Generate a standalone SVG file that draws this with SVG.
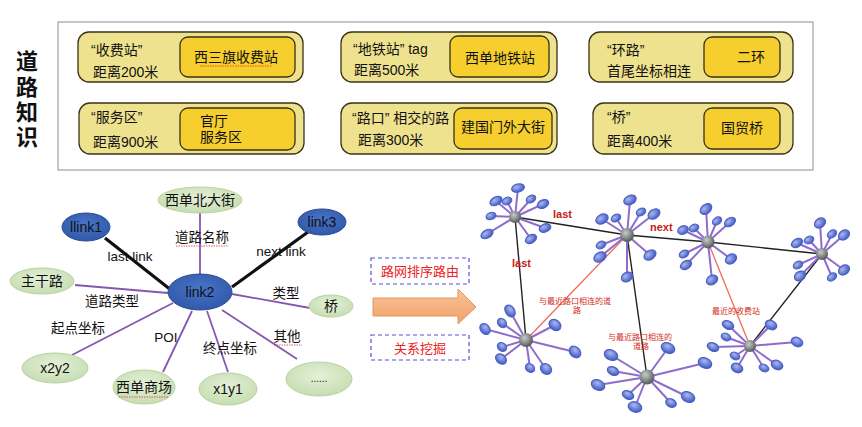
<svg xmlns="http://www.w3.org/2000/svg" width="862" height="427" viewBox="0 0 862 427">
<defs>
<radialGradient id="satg" cx="40%" cy="35%" r="70%"><stop offset="0" stop-color="#a9b8f0"/><stop offset="1" stop-color="#3c54bf"/></radialGradient>
<radialGradient id="hubg" cx="40%" cy="35%" r="70%"><stop offset="0" stop-color="#c8cccc"/><stop offset="1" stop-color="#4a5050"/></radialGradient>
<radialGradient id="greeng" cx="50%" cy="40%" r="65%"><stop offset="0" stop-color="#e4f0d8"/><stop offset="1" stop-color="#c3dcae"/></radialGradient>
<radialGradient id="blueg" cx="50%" cy="40%" r="65%"><stop offset="0" stop-color="#4a74c8"/><stop offset="1" stop-color="#2e56a8"/></radialGradient>
<linearGradient id="arrg" x1="0" y1="0" x2="0" y2="1"><stop offset="0" stop-color="#f8c49a"/><stop offset="1" stop-color="#f0a16a"/></linearGradient>
</defs>
<style>
text{font-family:"Liberation Sans","Noto Sans CJK SC",sans-serif;fill:#111}
.t{font-size:14px}
.c{text-anchor:middle}
.ob{fill:#efe28e;stroke:#3a3214;stroke-width:1.3}
.ib{fill:#f6cf2e;stroke:#3a3214;stroke-width:1.3}
.g{fill:url(#greeng);stroke:#b9d2a2;stroke-width:1}
.b{fill:url(#blueg);stroke:#2a4c98;stroke-width:1}
.lbl{font-size:13.5px}
.pl{stroke:#8557b0;stroke-width:1.8;fill:none}
.bl{stroke:#111;stroke-width:3.2;fill:none}
.sq{stroke:#d33;stroke-width:0.8;fill:none;stroke-dasharray:1.5 1}
.sp{stroke:#8e6ccc;stroke-width:2}
.sat{fill:url(#satg);stroke:#4a60c6;stroke-width:1.2}
.hub{fill:url(#hubg)}
.nl{stroke:#222;stroke-width:1.4;fill:none}
.rl{stroke:#f06a5a;stroke-width:1.3;fill:none}
.rt{fill:#d42a20;font-size:8px}
.rb{fill:#c8201a;font-size:11px;font-weight:bold}
.db{fill:none;stroke:#5b4fd6;stroke-width:1.2;stroke-dasharray:4 3}
.mt{fill:#e22;font-size:13px;text-anchor:middle}
.ttl{font-size:22px;font-weight:bold;text-anchor:middle}
</style>

<!-- Top: road knowledge -->
<g id="title"><text class="ttl" x="27" y="69">道</text><text class="ttl" x="27" y="95">路</text><text class="ttl" x="27" y="120">知</text><text class="ttl" x="27" y="145">识</text></g>
<rect id="knowledge-frame" x="58" y="22" width="755" height="148" fill="#fff" stroke="#a8a8a8" stroke-width="1.3"/>

<g id="k1"><rect class="ob" x="78" y="32" width="225" height="50" rx="11"/><rect class="ib" x="180" y="37" width="115" height="40" rx="8"/>
<text class="t" x="91" y="55">“收费站”</text><text class="t" x="93" y="77">距离200米</text><text class="t c" x="236" y="62">西三旗收费站</text>
<path class="sq" d="M200 66 h72"/></g>
<g id="k2"><rect class="ob" x="341" y="32" width="216" height="50" rx="11"/><rect class="ib" x="450" y="36" width="99" height="41" rx="8"/>
<text class="t" x="353" y="54">“地铁站” tag</text><text class="t" x="354" y="75">距离500米</text><text class="t c" x="500" y="63">西单地铁站</text></g>
<g id="k3"><rect class="ob" x="589" y="32" width="204" height="50" rx="11"/><rect class="ib" x="704" y="37" width="76" height="40" rx="8"/>
<text class="t" x="607" y="55">“环路”</text><text class="t" x="607" y="76">首尾坐标相连</text><text class="t c" x="751" y="62">二环</text></g>
<g id="k4"><rect class="ob" x="79" y="103" width="225" height="51" rx="11"/><rect class="ib" x="180" y="108" width="115" height="42" rx="8"/>
<text class="t" x="91" y="122">“服务区”</text><text class="t" x="93" y="147">距离900米</text><text class="t" x="200" y="126">官厅</text><text class="t" x="200" y="142">服务区</text></g>
<g id="k5"><rect class="ob" x="341" y="103" width="216" height="51" rx="11"/><rect class="ib" x="454" y="108" width="98" height="41" rx="8"/>
<text class="t" x="352" y="123">“路口” 相交的路</text><text class="t" x="358" y="145">距离300米</text><text class="t c" x="503" y="132">建国门外大街</text></g>
<g id="k6"><rect class="ob" x="593" y="103" width="200" height="51" rx="11"/><rect class="ib" x="704" y="108" width="76" height="41" rx="8"/>
<text class="t" x="607" y="122">“桥”</text><text class="t" x="607" y="146">距离400米</text><text class="t c" x="742" y="133">国贸桥</text></g>

<!-- Left graph connectors -->
<g id="link-connectors">
<line class="pl" x1="200" y1="213" x2="200" y2="275"/>
<line class="pl" x1="75" y1="285" x2="168" y2="293"/>
<line class="pl" x1="232" y1="294" x2="310" y2="308"/>
<line class="pl" x1="72" y1="355" x2="173" y2="303"/>
<line class="pl" x1="163" y1="372" x2="192" y2="311"/>
<line class="pl" x1="228" y1="372" x2="207" y2="311"/>
<line class="pl" x1="297" y1="359" x2="222" y2="310"/>
<line class="bl" x1="105" y1="238" x2="171" y2="290"/>
<line class="bl" x1="308" y1="232" x2="232" y2="287"/>
<text class="lbl c" x="130" y="261">last link</text>
<text class="lbl c" x="202" y="242">道路名称</text>
<path class="sq" d="M176 246 h52"/>
<text class="lbl c" x="281" y="256">next link</text>
<text class="lbl c" x="112" y="306">道路类型</text>
<text class="lbl c" x="286" y="298">类型</text>
<text class="lbl c" x="78" y="333">起点坐标</text>
<text class="lbl c" x="166" y="342">POI</text>
<text class="lbl c" x="230" y="353">终点坐标</text>
<text class="lbl c" x="287" y="341">其他</text>
<path class="sq" d="M274 345 h28"/>
</g>
<g id="n-xidanbei"><ellipse class="g" cx="200" cy="200" rx="42" ry="13"/><text class="t c" x="200" y="205">西单北大街</text></g>
<g id="n-llink1"><ellipse class="b" cx="86" cy="227" rx="24" ry="14"/><text class="t c" x="86" y="232">llink1</text></g>
<g id="n-link3"><ellipse class="b" cx="322" cy="222" rx="24" ry="13"/><text class="t c" x="322" y="227">link3</text></g>
<g id="n-link2"><ellipse class="b" cx="200" cy="292" rx="32" ry="18"/><text class="t c" x="200" y="297">link2</text></g>
<g id="n-zhugan"><ellipse class="g" cx="42" cy="281" rx="32" ry="13"/><text class="t c" x="42" y="286">主干路</text></g>
<g id="n-qiao"><ellipse class="g" cx="331" cy="306" rx="22" ry="11"/><text class="t c" x="331" y="311">桥</text></g>
<g id="n-x2y2"><ellipse class="g" cx="55" cy="368" rx="33" ry="15"/><text class="t c" x="55" y="373">x2y2</text></g>
<g id="n-xidanshang"><ellipse class="g" cx="144" cy="387" rx="31" ry="17"/><text class="t c" x="144" y="392">西单商场</text><path class="sq" d="M119 397 h50"/></g>
<g id="n-x1y1"><ellipse class="g" cx="228" cy="389" rx="29" ry="16"/><text class="t c" x="228" y="394">x1y1</text></g>
<g id="n-more"><ellipse class="g" cx="319" cy="379" rx="33" ry="17"/><text class="c" x="319" y="382" font-size="10">......</text></g>

<!-- Middle arrow and labels -->
<g id="arrow"><path d="M373 298 H458 V289 L476 307 L458 324 V316 H373 Z" fill="url(#arrg)" stroke="#e4955c" stroke-width="1"/></g>
<g id="lbl-routing"><rect class="db" x="371" y="258" width="98" height="26"/><text class="mt" x="420" y="276">路网排序路由</text></g>
<g id="lbl-mining"><rect class="db" x="371" y="335" width="98" height="25"/><text class="mt" x="420" y="353">关系挖掘</text></g>

<!-- Right network connectors -->
<g id="net-connectors">
<line class="nl" x1="515" y1="217" x2="627" y2="235"/>
<line class="nl" x1="627" y1="235" x2="708" y2="242"/>
<line class="nl" x1="708" y1="242" x2="822" y2="254"/>
<line class="nl" x1="515" y1="217" x2="526" y2="340"/>
<line class="nl" x1="627" y1="235" x2="647" y2="377"/>
<line class="nl" x1="822" y1="254" x2="750" y2="346"/>
<line class="rl" x1="526" y1="340" x2="627" y2="235"/>
<line class="rl" x1="708" y1="242" x2="750" y2="346"/>
<text class="rb" x="553" y="218">last</text>
<text class="rb" x="650" y="231">next</text>
<text class="rb" x="512" y="267">last</text>
<text class="rt" x="539" y="304">与最近路口相连的道</text>
<text class="rt c" x="577" y="313">路</text>
<text class="rt" x="608" y="340">与最近路口相连的</text>
<text class="rt c" x="641" y="349">道路</text>
<text class="rt" x="712" y="314">最近的收费站</text>
</g>

<g id="hubA">
<g class="sp"><line x1="515" y1="217" x2="518" y2="188"/><line x1="515" y1="217" x2="496" y2="201"/><line x1="515" y1="217" x2="507" y2="201"/><line x1="515" y1="217" x2="531" y2="199"/><line x1="515" y1="217" x2="543" y2="204"/><line x1="515" y1="217" x2="491" y2="216"/><line x1="515" y1="217" x2="545" y2="228"/><line x1="515" y1="217" x2="487" y2="234"/><line x1="515" y1="217" x2="531" y2="239"/></g>
<g class="sat"><ellipse cx="518" cy="188" rx="6.5" ry="4" transform="rotate(-15 518 188)"/><ellipse cx="496" cy="201" rx="6.5" ry="4" transform="rotate(-30 496 201)"/><ellipse cx="507" cy="201" rx="5" ry="3.5" transform="rotate(-25 507 201)"/><ellipse cx="531" cy="199" rx="5" ry="3.5" transform="rotate(-30 531 199)"/><ellipse cx="543" cy="204" rx="6" ry="4" transform="rotate(-25 543 204)"/><ellipse cx="491" cy="216" rx="5" ry="3.5" transform="rotate(-20 491 216)"/><ellipse cx="545" cy="228" rx="6" ry="4" transform="rotate(-20 545 228)"/><ellipse cx="487" cy="234" rx="6.5" ry="4" transform="rotate(-30 487 234)"/><ellipse cx="531" cy="239" rx="6" ry="4" transform="rotate(-30 531 239)"/></g>
<circle class="hub" cx="515" cy="217" r="6"/></g>

<g id="hubB">
<g class="sp"><line x1="627" y1="235" x2="630" y2="200"/><line x1="627" y1="235" x2="602" y2="219"/><line x1="627" y1="235" x2="616" y2="218"/><line x1="627" y1="235" x2="641" y2="212"/><line x1="627" y1="235" x2="654" y2="214"/><line x1="627" y1="235" x2="601" y2="245"/><line x1="627" y1="235" x2="600" y2="257"/><line x1="627" y1="235" x2="650" y2="255"/><line x1="627" y1="235" x2="627" y2="277"/></g>
<g class="sat"><ellipse cx="630" cy="200" rx="6.5" ry="4.5" transform="rotate(-25 630 200)"/><ellipse cx="602" cy="219" rx="6.5" ry="4.5" transform="rotate(-30 602 219)"/><ellipse cx="616" cy="218" rx="5" ry="3.5" transform="rotate(-30 616 218)"/><ellipse cx="641" cy="212" rx="5" ry="3.5" transform="rotate(-30 641 212)"/><ellipse cx="654" cy="214" rx="6.5" ry="4.5" transform="rotate(-35 654 214)"/><ellipse cx="601" cy="245" rx="5" ry="3.5" transform="rotate(-25 601 245)"/><ellipse cx="600" cy="257" rx="6.5" ry="4.5" transform="rotate(-30 600 257)"/><ellipse cx="650" cy="255" rx="6.5" ry="4.5" transform="rotate(-35 650 255)"/><ellipse cx="627" cy="277" rx="6" ry="4.5" transform="rotate(-30 627 277)"/></g>
<circle class="hub" cx="627" cy="235" r="7"/></g>

<g id="hubC">
<g class="sp"><line x1="708" y1="242" x2="706" y2="209"/><line x1="708" y1="242" x2="683" y2="230"/><line x1="708" y1="242" x2="694" y2="228"/><line x1="708" y1="242" x2="717" y2="221"/><line x1="708" y1="242" x2="730" y2="222"/><line x1="708" y1="242" x2="684" y2="254"/><line x1="708" y1="242" x2="686" y2="265"/><line x1="708" y1="242" x2="731" y2="259"/><line x1="708" y1="242" x2="712" y2="280"/></g>
<g class="sat"><ellipse cx="706" cy="209" rx="6.5" ry="4.5" transform="rotate(-40 706 209)"/><ellipse cx="683" cy="230" rx="5.5" ry="4" transform="rotate(-25 683 230)"/><ellipse cx="694" cy="228" rx="5" ry="3.5" transform="rotate(-25 694 228)"/><ellipse cx="717" cy="221" rx="5" ry="3.5" transform="rotate(-35 717 221)"/><ellipse cx="730" cy="222" rx="6" ry="4" transform="rotate(-35 730 222)"/><ellipse cx="684" cy="254" rx="5" ry="3.5" transform="rotate(-30 684 254)"/><ellipse cx="686" cy="265" rx="6" ry="4" transform="rotate(-30 686 265)"/><ellipse cx="731" cy="259" rx="6" ry="4.5" transform="rotate(-35 731 259)"/><ellipse cx="712" cy="280" rx="6" ry="4.5" transform="rotate(-30 712 280)"/></g>
<circle class="hub" cx="708" cy="242" r="6.5"/></g>

<g id="hubD">
<g class="sp"><line x1="822" y1="254" x2="820" y2="223"/><line x1="822" y1="254" x2="797" y2="243"/><line x1="822" y1="254" x2="809" y2="240"/><line x1="822" y1="254" x2="832" y2="234"/><line x1="822" y1="254" x2="844" y2="235"/><line x1="822" y1="254" x2="798" y2="265"/><line x1="822" y1="254" x2="800" y2="276"/><line x1="822" y1="254" x2="832" y2="277"/><line x1="822" y1="254" x2="844" y2="270"/></g>
<g class="sat"><ellipse cx="820" cy="223" rx="6" ry="4.5" transform="rotate(-35 820 223)"/><ellipse cx="797" cy="243" rx="6" ry="4" transform="rotate(-30 797 243)"/><ellipse cx="809" cy="240" rx="5" ry="3.5" transform="rotate(-25 809 240)"/><ellipse cx="832" cy="234" rx="5" ry="3.5" transform="rotate(-35 832 234)"/><ellipse cx="844" cy="235" rx="6" ry="4.5" transform="rotate(-35 844 235)"/><ellipse cx="798" cy="265" rx="5" ry="3.5" transform="rotate(-30 798 265)"/><ellipse cx="800" cy="276" rx="6" ry="4.5" transform="rotate(-30 800 276)"/><ellipse cx="832" cy="277" rx="5" ry="3.5" transform="rotate(-35 832 277)"/><ellipse cx="844" cy="270" rx="6" ry="4.5" transform="rotate(-35 844 270)"/></g>
<circle class="hub" cx="822" cy="254" r="6"/></g>

<g id="hubE">
<g class="sp"><line x1="526" y1="340" x2="510" y2="311"/><line x1="526" y1="340" x2="502" y2="323"/><line x1="526" y1="340" x2="555" y2="325"/><line x1="526" y1="340" x2="485" y2="329"/><line x1="526" y1="340" x2="502" y2="347"/><line x1="526" y1="340" x2="501" y2="359"/><line x1="526" y1="340" x2="575" y2="352"/><line x1="526" y1="340" x2="530" y2="368"/><line x1="526" y1="340" x2="546" y2="369"/></g>
<g class="sat"><ellipse cx="510" cy="311" rx="6.5" ry="4.5" transform="rotate(55 510 311)"/><ellipse cx="502" cy="323" rx="5" ry="4" transform="rotate(45 502 323)"/><ellipse cx="555" cy="325" rx="6.5" ry="5" transform="rotate(40 555 325)"/><ellipse cx="485" cy="329" rx="6" ry="4.5" transform="rotate(50 485 329)"/><ellipse cx="502" cy="347" rx="5" ry="4" transform="rotate(40 502 347)"/><ellipse cx="501" cy="359" rx="6" ry="4.5" transform="rotate(40 501 359)"/><ellipse cx="575" cy="352" rx="6.5" ry="5" transform="rotate(45 575 352)"/><ellipse cx="530" cy="368" rx="5" ry="4" transform="rotate(40 530 368)"/><ellipse cx="546" cy="369" rx="6" ry="5" transform="rotate(40 546 369)"/></g>
<circle class="hub" cx="526" cy="340" r="7"/></g>

<g id="hubF">
<g class="sp"><line x1="647" y1="377" x2="611" y2="355"/><line x1="647" y1="377" x2="668" y2="348"/><line x1="647" y1="377" x2="705" y2="363"/><line x1="647" y1="377" x2="613" y2="371"/><line x1="647" y1="377" x2="598" y2="385"/><line x1="647" y1="377" x2="628" y2="395"/><line x1="647" y1="377" x2="635" y2="407"/><line x1="647" y1="377" x2="671" y2="403"/><line x1="647" y1="377" x2="688" y2="397"/></g>
<g class="sat"><ellipse cx="611" cy="355" rx="7" ry="5" transform="rotate(25 611 355)"/><ellipse cx="668" cy="348" rx="7" ry="5" transform="rotate(25 668 348)"/><ellipse cx="705" cy="363" rx="7" ry="5" transform="rotate(25 705 363)"/><ellipse cx="613" cy="371" rx="6" ry="4" transform="rotate(25 613 371)"/><ellipse cx="598" cy="385" rx="7" ry="5" transform="rotate(25 598 385)"/><ellipse cx="628" cy="395" rx="6" ry="4" transform="rotate(25 628 395)"/><ellipse cx="635" cy="407" rx="7" ry="5" transform="rotate(20 635 407)"/><ellipse cx="671" cy="403" rx="5.5" ry="4" transform="rotate(25 671 403)"/><ellipse cx="688" cy="397" rx="7" ry="5" transform="rotate(25 688 397)"/></g>
<circle class="hub" cx="647" cy="377" r="7.5"/></g>

<g id="hubG">
<g class="sp"><line x1="750" y1="346" x2="728" y2="325"/><line x1="750" y1="346" x2="771" y2="325"/><line x1="750" y1="346" x2="726" y2="337"/><line x1="750" y1="346" x2="797" y2="342"/><line x1="750" y1="346" x2="713" y2="347"/><line x1="750" y1="346" x2="735" y2="356"/><line x1="750" y1="346" x2="737" y2="368"/><line x1="750" y1="346" x2="764" y2="368"/><line x1="750" y1="346" x2="777" y2="365"/></g>
<g class="sat"><ellipse cx="728" cy="325" rx="6" ry="4" transform="rotate(25 728 325)"/><ellipse cx="771" cy="325" rx="6" ry="4.5" transform="rotate(25 771 325)"/><ellipse cx="726" cy="337" rx="5" ry="3.5" transform="rotate(25 726 337)"/><ellipse cx="797" cy="342" rx="6" ry="4.5" transform="rotate(25 797 342)"/><ellipse cx="713" cy="347" rx="6" ry="4" transform="rotate(25 713 347)"/><ellipse cx="735" cy="356" rx="5" ry="3.5" transform="rotate(25 735 356)"/><ellipse cx="737" cy="368" rx="6" ry="4.5" transform="rotate(25 737 368)"/><ellipse cx="764" cy="368" rx="5" ry="3.5" transform="rotate(25 764 368)"/><ellipse cx="777" cy="365" rx="6" ry="4.5" transform="rotate(25 777 365)"/></g>
<circle class="hub" cx="750" cy="346" r="6"/></g>
</svg>
